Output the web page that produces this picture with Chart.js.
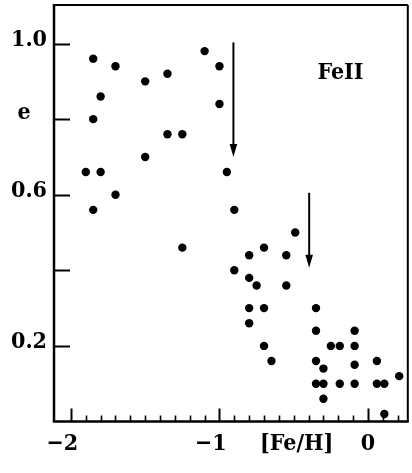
<!DOCTYPE html>
<html>
<head>
<meta charset="utf-8">
<script src="https://cdn.jsdelivr.net/npm/chart.js@4.4.1/dist/chart.umd.min.js"></script>
<style>
  html, body { margin: 0; padding: 0; background: #fff; }
  canvas { display: block; }
</style>
</head>
<body>
<canvas id="ecc" width="412" height="473"></canvas>
<script>
// metallicity [Fe/H] and eccentricity e for each star
const feH = [
  -1.85, -1.70, -1.50, -1.35, -1.10, -1.80, -1.85, -1.35, -1.25, -1.50,
  -1.90, -1.80, -1.70, -1.85, -1.00, -1.00, -0.95, -0.90, -0.49, -1.25,
  -0.80, -0.70, -0.55, -0.90, -0.80, -0.75, -0.55, -0.80, -0.70, -0.35,
  -0.80, -0.35, -0.09, -0.70, -0.25, -0.19, -0.09, -0.65, -0.35, -0.30,
  -0.09, 0.06, 0.21, -0.35, -0.30, -0.19, -0.09, 0.06, 0.11, -0.30, 0.11
];
const ecc = [
  0.96, 0.94, 0.90, 0.92, 0.98, 0.86, 0.80, 0.76, 0.76, 0.70,
  0.66, 0.66, 0.60, 0.56, 0.94, 0.84, 0.66, 0.56, 0.50, 0.46,
  0.44, 0.46, 0.44, 0.40, 0.38, 0.36, 0.36, 0.30, 0.30, 0.30,
  0.26, 0.24, 0.24, 0.20, 0.20, 0.20, 0.20, 0.16, 0.16, 0.14,
  0.15, 0.16, 0.12, 0.10, 0.10, 0.10, 0.10, 0.10, 0.10, 0.06, 0.02
];

// downward arrows: x position, top and tip in e
const arrowX = [-0.906, -0.396];
const arrowTop = [1.003, 0.605];
const arrowTip = [0.70, 0.407];

// tick labels
const yTickVals = [1.0, 0.8, 0.6, 0.4, 0.2];
const yTickText = ['1.0', 'e', '0.6', '', '0.2'];
const xMajor = [-2, -1, 0];
const xMajorText = ['\u22122', '\u22121', '0'];
const xTitle = '[Fe/H]';
const xTitleAt = -0.48;
const panelLabel = 'FeII';
const panelAt = { x: -0.34, y: 0.905 };

const FONT = 'bold 23px "DejaVu Serif Condensed", "DejaVu Serif", serif';

const framePlugin = {
  id: 'frame',
  afterDatasetsDraw(chart) {
    const { ctx, chartArea: a, scales: { x, y } } = chart;
    ctx.save();
    ctx.strokeStyle = '#000';
    ctx.fillStyle = '#000';
    ctx.lineCap = 'butt';

    // box
    ctx.lineWidth = 2;
    ctx.beginPath();
    ctx.moveTo(a.left, a.top); ctx.lineTo(a.right, a.top);
    ctx.moveTo(a.right, a.top); ctx.lineTo(a.right, a.bottom);
    ctx.stroke();
    ctx.lineWidth = 2.5;
    ctx.beginPath();
    ctx.moveTo(a.left, a.top - 1); ctx.lineTo(a.left, a.bottom);
    ctx.lineTo(a.right + 1, a.bottom);
    ctx.stroke();

    // y ticks, pointing inwards
    ctx.lineWidth = 2;
    yTickVals.forEach(v => {
      const py = Math.round(y.getPixelForValue(v)) + 0.5;
      ctx.beginPath();
      ctx.moveTo(a.left, py); ctx.lineTo(a.left + 16, py);
      ctx.stroke();
    });

    // x ticks every 0.1, longer at integers
    for (let i = -20; i <= 2; i++) {
      const px = Math.round(x.getPixelForValue(i / 10)) + 0.5;
      const major = i % 10 === 0;
      ctx.lineWidth = major ? 2 : 1.6;
      ctx.beginPath();
      ctx.moveTo(px, a.bottom);
      ctx.lineTo(px, a.bottom - (major ? 13 : 6));
      ctx.stroke();
    }

    // arrows
    arrowX.forEach((v, i) => {
      const px = x.getPixelForValue(v);
      const top = y.getPixelForValue(arrowTop[i]);
      const tip = y.getPixelForValue(arrowTip[i]);
      ctx.lineWidth = 2;
      ctx.beginPath();
      ctx.moveTo(px, top); ctx.lineTo(px, tip - 8);
      ctx.stroke();
      ctx.beginPath();
      ctx.moveTo(px - 3.8, tip - 13);
      ctx.lineTo(px + 3.8, tip - 13);
      ctx.lineTo(px, tip);
      ctx.closePath();
      ctx.fill();
    });

    // text
    ctx.font = FONT;
    ctx.textBaseline = 'alphabetic';
    yTickVals.forEach((v, i) => {
      const t = yTickText[i];
      if (!t) return;
      const py = y.getPixelForValue(v);
      if (t === 'e') {
        ctx.textAlign = 'center';
        ctx.fillText(t, 24, py);
      } else {
        ctx.textAlign = 'right';
        ctx.fillText(t, a.left - 7, py + 2);
      }
    });

    const digitW = ctx.measureText('0').width;
    ctx.textAlign = 'right';
    xMajor.forEach((v, i) => {
      ctx.fillText(xMajorText[i], x.getPixelForValue(v) + digitW / 2, 450);
    });
    ctx.textAlign = 'center';
    ctx.fillText(xTitle, x.getPixelForValue(xTitleAt), 450);

    ctx.textAlign = 'left';
    ctx.fillText(panelLabel, x.getPixelForValue(panelAt.x), y.getPixelForValue(panelAt.y));
    ctx.restore();
  }
};

new Chart(document.getElementById('ecc'), {
  type: 'scatter',
  data: {
    datasets: [{
      data: feH.map((v, i) => ({ x: v, y: ecc[i] })),
      backgroundColor: '#000',
      borderWidth: 0,
      pointRadius: 4.2,
      pointHoverRadius: 4.2
    }]
  },
  options: {
    responsive: false,
    animation: false,
    devicePixelRatio: 1,
    layout: { padding: { left: 54, top: 5, right: 3, bottom: 51.5 } },
    plugins: { legend: { display: false }, tooltip: { enabled: false } },
    scales: {
      x: { type: 'linear', display: false, min: -2.114, max: 0.268 },
      y: { type: 'linear', display: false, min: 0, max: 1.102 }
    }
  },
  plugins: [framePlugin]
});
</script>
</body>
</html>
